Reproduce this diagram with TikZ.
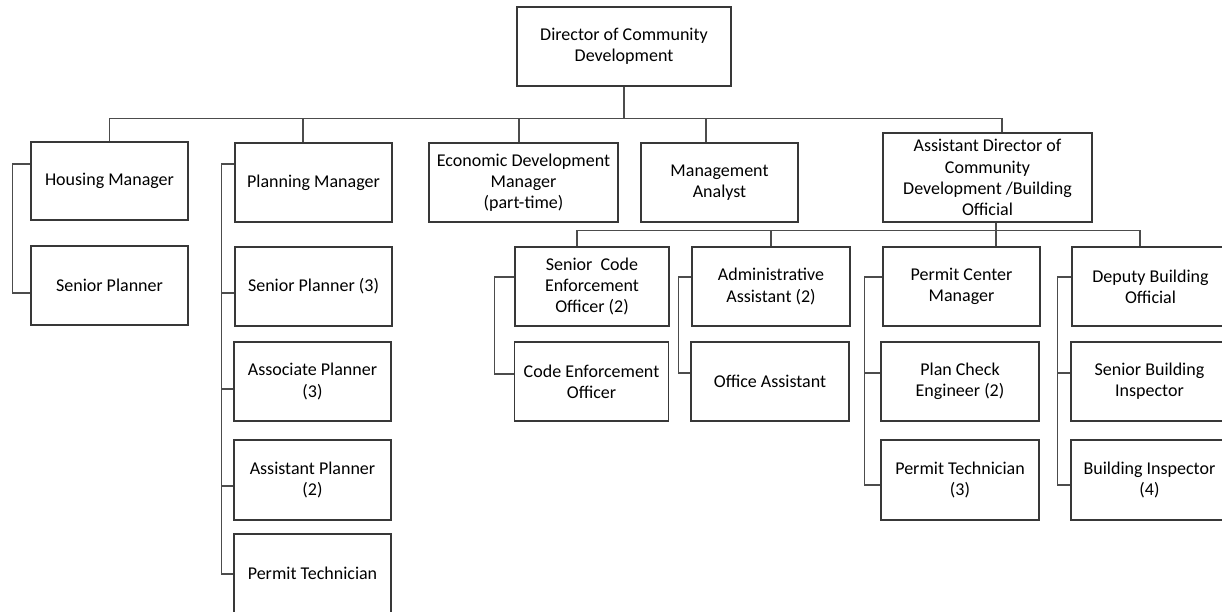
\documentclass[tikz,border=0pt]{standalone}
\usepackage{fontspec}
\setmainfont{Carlito}
\usetikzlibrary{calc}
\tikzset{
  orgbox/.style={draw=black!78, line width=1.1pt, rectangle, align=center, inner sep=2pt,
    font=\fontsize{18}{21.2}\selectfont, text=black},
  link/.style={draw=black!70, line width=1.1pt},
}
\begin{document}
\begin{tikzpicture}[x=1pt,y=-1pt]
\fill[white] (0,0) rectangle (1222,612);
\useasboundingbox (0,0) rectangle (1222,612);
\clip (0,0) rectangle (1222,612);
% top
\node[orgbox, minimum width=214pt, minimum height=79pt] (dir) at (624,46.5) {Director of Community\\Development};
% level 1
\node[orgbox, minimum width=157pt, minimum height=78pt] (hous) at (109.5,181) {Housing Manager};
\node[orgbox, minimum width=157pt, minimum height=79pt] (plan) at (313.5,182.5) {Planning Manager};
\node[orgbox, minimum width=189pt, minimum height=79pt] (econ) at (523.5,182.5) {Economic Development\\Manager\\(part-time)};
\node[orgbox, minimum width=157pt, minimum height=79pt] (mgmt) at (719.5,182.5) {Management\\Analyst};
\node[orgbox, minimum width=209pt, minimum height=89pt] (adir) at (987.5,177.5) {Assistant Director of\\Community\\Development /Building\\Official};
% housing column
\node[orgbox, minimum width=157pt, minimum height=79pt] (hsp) at (109.5,285.5) {Senior Planner};
% planning column
\node[orgbox, minimum width=157pt, minimum height=79pt] (psp) at (313.5,286.5) {Senior Planner (3)};
\node[orgbox, minimum width=157pt, minimum height=79pt] (pap) at (312.5,381.5) {Associate Planner\\(3)};
\node[orgbox, minimum width=157pt, minimum height=80pt] (pasp) at (312.5,480) {Assistant Planner\\(2)};
\node[orgbox, minimum width=157pt, minimum height=79pt] (ppt) at (312.5,573.5) {Permit Technician};
% level 2
\node[orgbox, minimum width=154pt, minimum height=79pt] (sceo) at (592,286.5) {Senior\ \ Code\\Enforcement\\Officer (2)};
\node[orgbox, minimum width=154pt, minimum height=79pt] (ceo) at (591.5,381.5) {Code Enforcement\\Officer};
\node[orgbox, minimum width=158pt, minimum height=79pt] (aa) at (771,286.5) {Administrative\\Assistant (2)};
\node[orgbox, minimum width=158pt, minimum height=79pt] (oa) at (770,381.5) {Office Assistant};
\node[orgbox, minimum width=157pt, minimum height=79pt] (pcm) at (961.5,286.5) {Permit Center\\Manager};
\node[orgbox, minimum width=158pt, minimum height=79pt] (pce) at (960,381.5) {Plan Check\\Engineer (2)};
\node[orgbox, minimum width=158pt, minimum height=80pt] (ptech) at (960,480) {Permit Technician\\(3)};
\node[orgbox, minimum width=157pt, minimum height=79pt] (dbo) at (1150.5,286.5) {Deputy Building\\Official};
\node[orgbox, minimum width=157pt, minimum height=79pt] (sbi) at (1149.5,381.5) {Senior Building\\Inspector};
\node[orgbox, minimum width=157pt, minimum height=80pt] (bi) at (1149.5,480) {Building Inspector\\(4)};
% top bus
\draw[link] (dir.south) -- ++(0,32) coordinate (bus);
\draw[link] (bus) -| (hous.north);
\draw[link] (bus) -| ([xshift=-10.5pt]plan.north);
\draw[link] (bus) -| ([xshift=-4.5pt]econ.north);
\draw[link] (bus) -| ([xshift=-13.5pt]mgmt.north);
\draw[link] (bus) -| ([xshift=14.5pt]adir.north);
% second bus
\draw[link] ([xshift=8.5pt]adir.south) -- ([xshift=34.5pt]pcm.north);
\path ([xshift=8.5pt]adir.south) ++(0,8) coordinate (bus2);
\draw[link] (bus2) -| ([xshift=-15pt]sceo.north);
\draw[link] (bus2) -| (aa.north);
\draw[link] (bus2) -| ([xshift=-10.5pt]dbo.north);
% brackets
\draw[link] ([yshift=17pt]hous.west) -- ++(-18,0) |- ([yshift=-7.5pt]hsp.west);
\draw[link] ([yshift=18.5pt]plan.west) -- ++(-13,0) |- ([yshift=-0.5pt]ppt.west);
\draw[link] ([yshift=-6.5pt]psp.west) -- ++(-13,0);
\draw[link] ([yshift=-7.5pt]pap.west) -- ++(-12,0);
\draw[link] ([yshift=-6pt]pasp.west) -- ++(-12,0);
\draw[link] ([yshift=9.5pt]sceo.west) -- ++(-20,0) |- ([yshift=7.5pt]ceo.west);
\draw[link] ([yshift=9.5pt]aa.west) -- ++(-13,0) |- ([yshift=8.5pt]oa.west);
\draw[link] ([yshift=9.5pt]pcm.west) -- ++(-18,0) |- ([yshift=-5pt]ptech.west);
\draw[link] ([yshift=8.5pt]pce.west) -- ++(-16,0);
\draw[link] ([yshift=9.5pt]dbo.west) -- ++(-14,0) |- ([yshift=-5pt]bi.west);
\draw[link] ([yshift=8.5pt]sbi.west) -- ++(-13,0);
\end{tikzpicture}
\end{document}
